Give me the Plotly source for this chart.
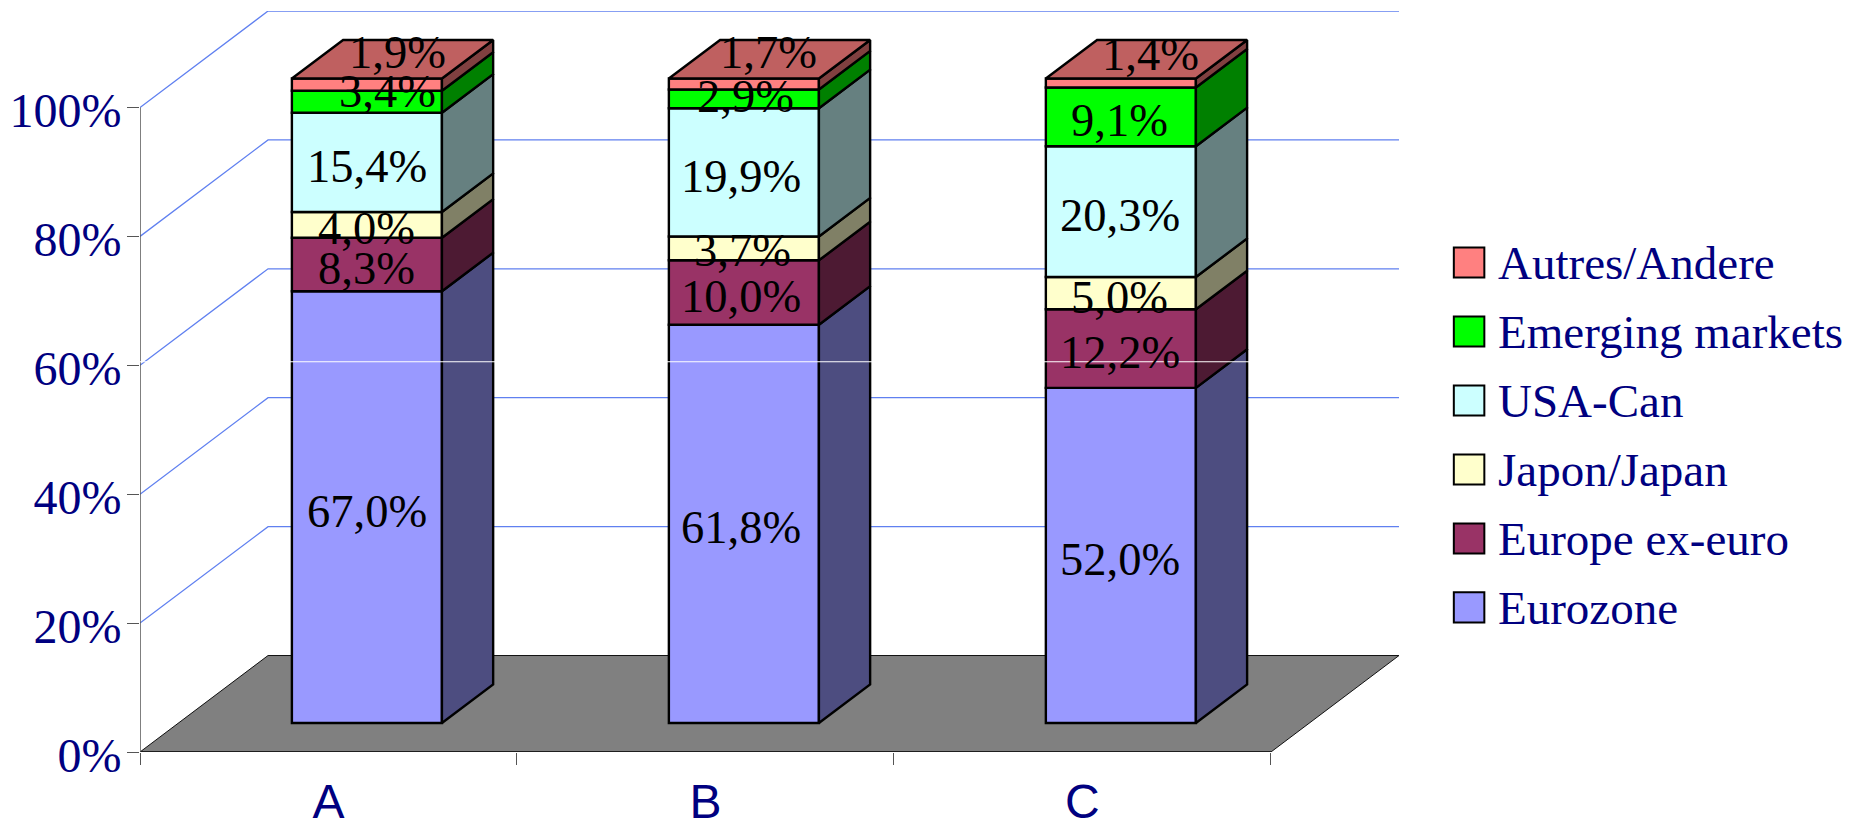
import plotly.graph_objects as go

categories = ["A", "B", "C"]
series_names = ["Eurozone", "Europe ex-euro", "Japon/Japan", "USA-Can", "Emerging markets", "Autres/Andere"]
eurozone = [67.0, 61.8, 52.0]
europe_ex_euro = [8.3, 10.0, 12.2]
japan = [4.0, 3.7, 5.0]
usa_can = [15.4, 19.9, 20.3]
emerging = [3.4, 2.9, 9.1]
autres = [1.9, 1.7, 1.4]
series_values = [eurozone, europe_ex_euro, japan, usa_can, emerging, autres]

front_colors = ["#9999FF", "#993366", "#FFFFCC", "#CCFFFF", "#00FF00", "#FF8080"]
side_colors = ["#4D4D80", "#4D1A33", "#808066", "#668080", "#008000", "#804040"]
top_color = "#BF6060"
y_ticks = [0, 20, 40, 60, 80, 100]

# nudges of hand-placed labels (series index, category index): (px right, px up)
label_nudge = {(5, 0): (31, 36), (4, 0): (21, 14), (5, 1): (28, 36), (4, 1): (5, 6),
               (5, 2): (31, 33), (2, 1): (2, 2)}
label_drop = 4
label_column_shift = [0, -3, -1]

# geometry
W, H = 1862, 827
x0_px, x1_px, y0_px, top_px = 140.3, 1398.7, 751.7, 11.3
px_x = 376.8
px_y = 6.44
wall_dx = 128 / px_x
wall_dy = 96.4 / px_y
bar_w = 0.398
front_dx, front_dy = 0.3 * wall_dx, 0.3 * wall_dy
bar_dx, bar_dy = 0.4 * wall_dx, 0.4 * wall_dy
x_max = (x1_px - x0_px) / px_x
y_max = (y0_px - top_px) / px_y


def px(x):
    return (x - x0_px) / (x1_px - x0_px)


def py(y):
    return (y0_px - y) / (y0_px - top_px)


fig = go.Figure()
centers = [i + 0.5 + front_dx for i in range(len(categories))]
cum = [front_dy] * len(categories)
annotations, shapes = [], []

# wall gridlines and floor
for t in y_ticks[1:]:
    shapes.append(dict(type="path", layer="below", xref="x", yref="y",
                       path=f"M0,{t} L{wall_dx},{t + wall_dy} L{x_max},{t + wall_dy}",
                       line=dict(color="#6080F0", width=1.3)))
shapes.append(dict(type="path", layer="below", xref="x", yref="y",
                   path=f"M0,0 L{wall_dx},{wall_dy} L{x_max},{wall_dy} L{x_max - wall_dx},0 Z",
                   fillcolor="#808080", line=dict(color="#111111", width=1)))
shapes.append(dict(type="line", layer="below", xref="x", yref="y", x0=0, x1=len(categories), y0=0, y1=0,
                   line=dict(color="#111111", width=1.5)))
shapes.append(dict(type="line", layer="below", xref="x", yref="y", x0=0, x1=0, y0=0, y1=100,
                   line=dict(color="#555555", width=1.5)))
# thin white seam running through the picture just above the 60 % tick
shapes.append(dict(type="line", layer="above", xref="x", yref="y", x0=0, x1=x_max, y0=60.55, y1=60.55,
                   line=dict(color="white", width=1.2)))

for s, (name, vals) in enumerate(zip(series_names, series_values)):
    fig.add_trace(go.Bar(x=centers, y=vals, base=cum, width=bar_w, name=name, showlegend=False,
                         marker=dict(color=front_colors[s], line=dict(color="black", width=2.4))))
    xs, ys = [], []
    for i, c in enumerate(centers):
        r = c + bar_w / 2
        b, t = cum[i], cum[i] + vals[i]
        xs += [r, r + bar_dx, r + bar_dx, r, r, None]
        ys += [b, b + bar_dy, t + bar_dy, t, b, None]
        dx, dy = label_nudge.get((s, i), (0, 0))
        annotations.append(dict(x=c, y=(b + t) / 2, xref="x", yref="y", showarrow=False,
                                text=f"{vals[i]:.1f}%".replace(".", ","),
                                xshift=dx + label_column_shift[i], yshift=dy - label_drop,
                                font=dict(family="Liberation Serif", size=46.5, color="black")))
    fig.add_trace(go.Scatter(x=xs, y=ys, mode="lines", fill="toself", fillcolor=side_colors[s],
                             line=dict(color="black", width=2.4), showlegend=False, hoverinfo="skip"))
    cum = [c + v for c, v in zip(cum, vals)]

# top faces
xs, ys = [], []
for i, c in enumerate(centers):
    l, r = c - bar_w / 2, c + bar_w / 2
    t = cum[i]
    xs += [l, r, r + bar_dx, l + bar_dx, l, None]
    ys += [t, t, t + bar_dy, t + bar_dy, t, None]
fig.add_trace(go.Scatter(x=xs, y=ys, mode="lines", fill="toself", fillcolor=top_color,
                         line=dict(color="black", width=2.4), showlegend=False, hoverinfo="skip"))

# legend
for k, s in enumerate(range(len(series_names) - 1, -1, -1)):
    top = 247.7 + k * 68.9
    shapes.append(dict(type="rect", xref="paper", yref="paper", x0=px(1453.5), x1=px(1484),
                       y0=py(top + 30), y1=py(top), fillcolor=front_colors[s],
                       line=dict(color="black", width=2)))
    annotations.append(dict(x=px(1496), y=py(top + 15.5), xref="paper", yref="paper", showarrow=False,
                            xanchor="left", yanchor="middle", text=series_names[s],
                            font=dict(family="Liberation Serif", size=47, color="#000080")))

fig.update_layout(
    width=W, height=H, autosize=False, paper_bgcolor="white", plot_bgcolor="white",
    margin=dict(l=x0_px, r=W - x1_px, t=top_px, b=H - y0_px, pad=0, autoexpand=False),
    barmode="overlay", shapes=shapes, annotations=annotations,
    xaxis=dict(range=[0, x_max], tickmode="array", automargin=False,
               tickvals=[i + 0.5 for i in range(len(categories))], ticktext=categories,
               ticks="", showgrid=False, zeroline=False, showline=False, ticklabelstandoff=17,
               tickfont=dict(family="Liberation Sans", size=48, color="#000080"),
               minor=dict(tickmode="array", tickvals=list(range(len(categories) + 1)), ticks="outside",
                          ticklen=12, tickwidth=1.3, tickcolor="#555555", showgrid=False)),
    yaxis=dict(range=[0, y_max], tickmode="array", tickvals=y_ticks, ticktext=[f"{t}%" for t in y_ticks],
               automargin=False, ticks="outside", ticklen=12, tickwidth=1.3, tickcolor="#555555",
               showgrid=False, zeroline=False, showline=False, ticklabelshift=3, ticklabelstandoff=-4,
               tickfont=dict(family="Liberation Serif", size=48, color="#000080")),
)

fig.write_html("out.html", post_script="document.body.style.margin='0';",
               config={"displayModeBar": False})
